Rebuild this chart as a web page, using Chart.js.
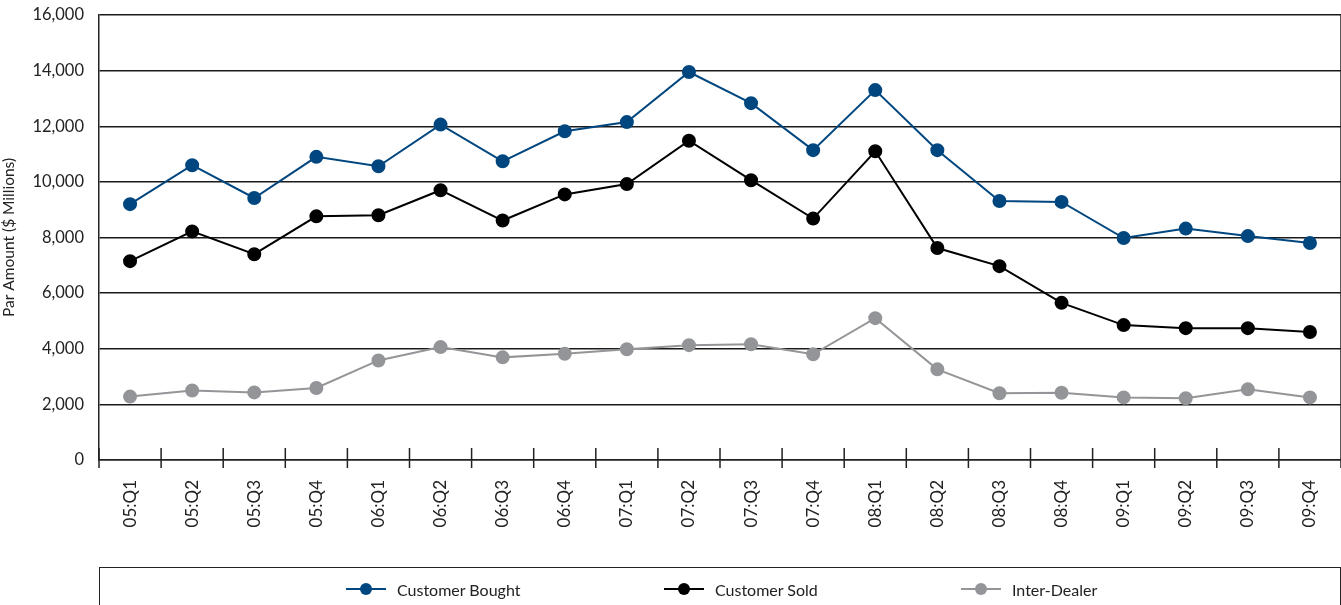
<!DOCTYPE html>
<html>
<head>
<meta charset="utf-8">
<script src="https://cdn.jsdelivr.net/npm/chart.js@4/dist/chart.umd.min.js"></script>
<style>
  html, body { margin: 0; padding: 0; background: #fff; overflow: hidden; }
  #wrap { position: relative; width: 1341px; height: 605px; overflow: hidden; font-family: Lato, "Noto Sans", sans-serif; }
  #c { position: absolute; left: 0; top: 0; }
  #legend { position: absolute; left: 99px; top: 567px; width: 1242px; height: 60px; border: 1.5px solid #222; box-sizing: border-box; }
  .item { position: absolute; top: 11px; height: 20px; display: flex; align-items: center; font-size: 16px; color: #222; white-space: nowrap; }
  .mk { position: relative; width: 40px; height: 18px; margin-right: 11px; }
  .mk .ln { position: absolute; left: 0; right: 0; top: 8px; height: 2px; }
  .mk .dt { position: absolute; left: 14px; top: 3px; width: 12px; height: 12px; border-radius: 50%; }
</style>
</head>
<body>
<div id="wrap">
  <canvas id="c" width="1349" height="605"></canvas>
  <div id="legend"></div>
</div>
<script>
const categories = ["05:Q1","05:Q2","05:Q3","05:Q4","06:Q1","06:Q2","06:Q3","06:Q4","07:Q1","07:Q2","07:Q3","07:Q4","08:Q1","08:Q2","08:Q3","08:Q4","09:Q1","09:Q2","09:Q3","09:Q4"];
const customerBought = [9200,10600,9420,10900,10560,12060,10740,11820,12150,13950,12830,11140,13300,11140,9310,9280,7980,8320,8050,7800];
const customerSold = [7150,8220,7400,8760,8800,9700,8610,9550,9920,11480,10060,8680,11100,7620,6970,5650,4850,4740,4740,4600];
const interDealer = [2280,2500,2430,2590,3580,4060,3690,3820,3980,4130,4160,3800,5100,3260,2400,2420,2250,2220,2540,2250];
const seriesNames = ["Customer Bought","Customer Sold","Inter-Dealer"];
const seriesColors = ["#00467f","#000000","#939598"];
const yTicks = [0,2000,4000,6000,8000,10000,12000,14000,16000];
const yTitle = "Par Amount ($ Millions)";

const FONT = "Lato, 'Noto Sans', sans-serif";
const seriesData = [customerBought, customerSold, interDealer];

const axisMarks = {
  id: 'axisMarks',
  afterDraw(chart) {
    const {ctx, chartArea} = chart;
    const xs = chart.scales.x;
    const n = categories.length;
    ctx.save();
    ctx.strokeStyle = '#222';
    ctx.lineWidth = 1.5;
    ctx.beginPath();
    for (let i = 0; i <= n; i++) {
      const x = xs.left + i * xs.width / n;
      ctx.moveTo(x, chartArea.bottom - 12);
      ctx.lineTo(x, chartArea.bottom + 8);
    }
    ctx.moveTo(chartArea.right, chartArea.top);
    ctx.lineTo(chartArea.right, chartArea.bottom);
    ctx.stroke();
    ctx.restore();
  }
};

new Chart(document.getElementById('c'), {
  type: 'line',
  data: {
    labels: categories,
    datasets: seriesData.map((d, i) => ({
      label: seriesNames[i],
      data: d,
      borderColor: seriesColors[i],
      backgroundColor: seriesColors[i],
      pointBackgroundColor: seriesColors[i],
      pointBorderColor: seriesColors[i],
      borderWidth: 2,
      pointRadius: 6,
      pointHoverRadius: 6,
      tension: 0,
      fill: false
    }))
  },
  options: {
    responsive: false,
    animation: false,
    devicePixelRatio: 1,
    layout: { padding: { left: 0, right: 0, top: 15, bottom: 0 } },
    plugins: { legend: { display: false }, tooltip: { enabled: false } },
    scales: {
      x: {
        type: 'category',
        offset: true,
        afterFit(s) { s.height = 145; s.paddingLeft = 0; s.paddingRight = 0; },
        grid: { display: false, offset: true },
        border: { display: true, color: '#222', width: 1.5 },
        ticks: { color: '#222', font: { family: FONT, size: 17 }, minRotation: 90, maxRotation: 90, padding: 12, autoSkip: false }
      },
      y: {
        min: 0, max: 16000,
        afterFit(s) { s.width = 99; s.paddingTop = 0; s.paddingBottom = 0; },
        afterBuildTicks(s) { s.ticks = yTicks.map(v => ({ value: v })); },
        grid: { color: '#1a1a1a', lineWidth: 1.5, tickLength: 0, drawTicks: false },
        border: { display: true, color: '#222', width: 1.5 },
        ticks: { color: '#222', padding: 15, font: { family: FONT, size: 16.5 }, callback: v => v.toLocaleString('en-US') },
        title: { display: true, text: yTitle, color: '#222', font: { family: FONT, size: 15.5 }, padding: { top: 0, bottom: 0 } }
      }
    }
  },
  plugins: [axisMarks]
});

const legendPos = [246, 564, 861];
const lg = document.getElementById('legend');
seriesNames.forEach((name, i) => {
  const it = document.createElement('div');
  it.className = 'item';
  it.style.left = legendPos[i] + 'px';
  it.innerHTML = '<div class="mk"><div class="ln" style="background:' + seriesColors[i] + '"></div><div class="dt" style="background:' + seriesColors[i] + '"></div></div>';
  const t = document.createElement('span');
  t.textContent = name;
  it.appendChild(t);
  lg.appendChild(it);
});
</script>
</body>
</html>
